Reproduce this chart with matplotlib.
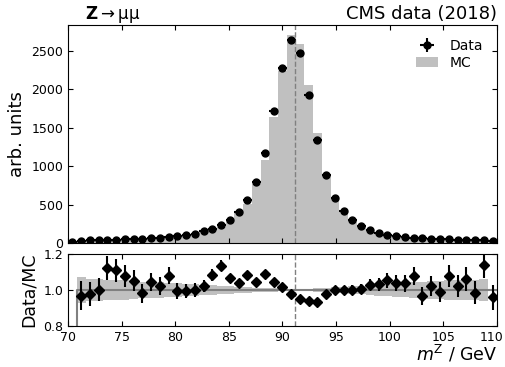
import numpy as np
import matplotlib
matplotlib.use("Agg")
import matplotlib.pyplot as plt
import matplotlib.transforms as mtransforms

# 49 bins between 70 and 110 GeV
edges = np.linspace(70., 110., 50)
centers = 0.5 * (edges[1:] + edges[:-1])
m_z = 91.19

data = [8, 22, 34, 36, 43, 45, 48, 52, 56, 63,
        69, 80, 90, 100, 120, 150, 185, 237, 306, 409,
        556, 797, 1176, 1722, 2283, 2643, 2470, 1930, 1340, 886,
        592, 415, 294, 220, 169, 134, 104, 86, 78, 69,
        60, 56, 52, 48, 43, 43, 39, 39, 30]
mc = [0, 22.7, 34.7, 35.9, 38.3, 40.6, 44.5, 49.5, 57.1, 60.3,
      67.5, 74.1, 90.5, 100.4, 120, 146.8, 170.7, 208.8, 287.3, 393.6,
      512.9, 764.1, 1080.9, 1644.7, 2244.8, 2708, 2597, 2057.6, 1431.6, 905,
      592, 415, 293.4, 218.5, 164, 129.8, 98.7, 82.6, 75.2, 64,
      62.1, 54.8, 52.5, 44.5, 42.1, 40.5, 39.6, 34.3, 31.3]
# effective number of events per arb. unit (sets the stat. errors)
data_scale = 6.3
mc_scale = 8.0

data = np.array(data, dtype=float)
mc = np.array(mc, dtype=float)
data_err = np.sqrt(data * data_scale) / data_scale
with np.errstate(divide="ignore", invalid="ignore"):
    ratio = np.where(mc > 0, data / mc, np.nan)
    ratio_err = np.where(mc > 0, data_err / mc, np.nan)
    mc_rel = np.where(mc > 0, 1. / np.sqrt(mc * mc_scale), np.nan)
mc_line = np.where(mc > 0, 1., 0.)

plt.rcParams["font.family"] = "DejaVu Sans"
plt.rcParams["xtick.direction"] = "in"
plt.rcParams["ytick.direction"] = "in"
plt.rcParams["xtick.top"] = True
plt.rcParams["ytick.right"] = True

fig = plt.figure(figsize=(5.06, 3.67), dpi=100)
ax = fig.add_axes([0.1344, 0.3379, 0.8476, 0.594])
rax = fig.add_axes([0.1344, 0.1117, 0.8476, 0.1962])

width = edges[1] - edges[0]
h_mc = ax.bar(centers, mc, width=width, color="#c0c0c0", label="MC", lw=0)
h_data = ax.errorbar(centers, data, yerr=data_err, xerr=width / 2, fmt="o",
                     ms=5, color="black", lw=1.5, label="Data")
ax.axvline(m_z, color="gray", ls="--", lw=1)
ax.set_xlim(70, 110)
ax.set_ylim(0, 2840)
ax.set_xticks(np.arange(70, 111, 5))
ax.set_xticklabels([])
ax.set_yticks(np.arange(0, 2501, 500))
ax.set_ylabel("arb. units", fontsize=13)
ax.tick_params(labelsize=9)
ax.legend([h_data, h_mc], ["Data", "MC"], loc="upper right", frameon=False,
          fontsize=10, handlelength=1.6, borderaxespad=0.6,
          labelspacing=0.2)
ax.set_title(r"$\mathbf{Z}\rightarrow$μμ", loc="left", fontsize=12,
             x=0.04, pad=2)
ax.set_title("CMS data (2018)", loc="right", fontsize=13, pad=2)

rax.fill_between(edges, np.append(1 - mc_rel, np.nan),
                 np.append(1 + mc_rel, np.nan), step="post",
                 color="#c0c0c0", lw=0)
rax.step(edges, np.append(mc_line, mc_line[-1]), where="post",
         color="gray", lw=1.5)
rax.errorbar(centers, ratio, yerr=ratio_err, fmt="D", ms=5,
             color="black", lw=1.5)
rax.axvline(m_z, color="gray", ls="--", lw=1)
rax.set_xlim(70, 110)
rax.set_ylim(0.8, 1.2)
rax.set_xticks(np.arange(70, 111, 5))
rax.set_yticks([0.8, 1.0, 1.2])
rax.tick_params(labelsize=9)
# keep the last x label inside the figure
last = rax.get_xticklabels()[-1]
last.set_transform(last.get_transform() +
                   mtransforms.ScaledTranslation(-4 / 72, 0,
                                                 fig.dpi_scale_trans))
rax.set_ylabel("Data/MC", fontsize=12.5)
rax.set_xlabel(r"$m^{\mathrm{Z}}$ / GeV", fontsize=12.5, loc="right",
               labelpad=0)

fig.savefig("out.png", dpi=100)
